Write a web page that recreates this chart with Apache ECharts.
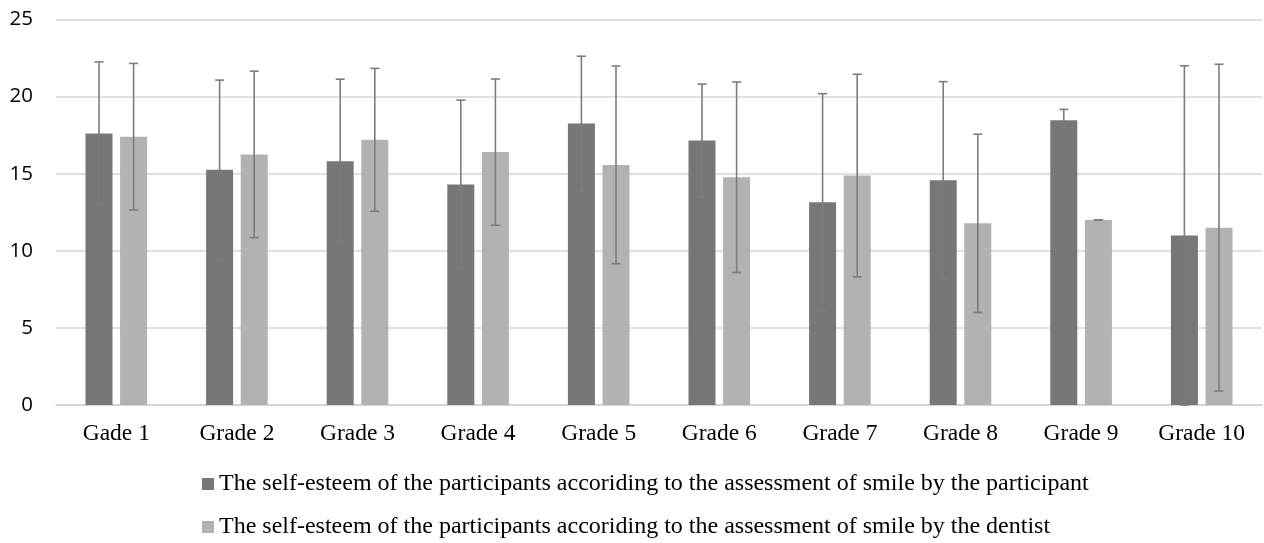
<!DOCTYPE html>
<html>
<head>
<meta charset="utf-8">
<script src="https://cdn.jsdelivr.net/npm/echarts@6/dist/echarts.min.js"></script>
<style>
html,body{margin:0;padding:0;background:#fff;}
#chart{width:1264px;height:543px;}
</style>
</head>
<body>
<div id="chart"></div>
<script>
const categories = ['Gade 1','Grade 2','Grade 3','Grade 4','Grade 5','Grade 6','Grade 7','Grade 8','Grade 9','Grade 10'];
const participantName = 'The self-esteem of the participants accoriding to the assessment of smile by the participant';
const dentistName = 'The self-esteem of the participants accoriding to the assessment of smile by the dentist';
const participantMeans = [17.6, 15.25, 15.8, 14.3, 18.25, 17.15, 13.15, 14.57, 18.47, 11.0];
const participantSD    = [4.65, 5.82, 5.33, 5.47, 4.37, 3.66, 7.04, 6.4, 0.7, 11.0];
const dentistMeans     = [17.4, 16.25, 17.2, 16.4, 15.57, 14.77, 14.88, 11.78, 12.0, 11.5];
const dentistSD        = [4.75, 5.4, 4.63, 4.74, 6.41, 6.18, 6.57, 5.78, 0.0, 10.6];
const yMin = 0, yMax = 25, yStep = 5;

const BAR_W = 27, BAR_GAP_PX = 7.6;
const DARK = '#777777', LIGHT = '#b1b2b4', ERR = '#7c7c7c';

function errData(means, sds){
  return means.map((m,i)=>[i, m, sds[i]]);
}
function errRender(side){
  return function(params, api){
    const idx = api.value(0), m = api.value(1), sd = api.value(2);
    const hi = api.coord([idx, m + sd]);
    const lo = api.coord([idx, Math.max(yMin, m - sd)]);
    const off = side * (BAR_W + BAR_GAP_PX) / 2;
    const x = hi[0] + off;
    const cap = 4.5;
    const style = {stroke: ERR, lineWidth: 1.6};
    return {type:'group', children:[
      {type:'line', shape:{x1:x, y1:hi[1], x2:x, y2:lo[1]}, style},
      {type:'line', shape:{x1:x-cap, y1:hi[1], x2:x+cap, y2:hi[1]}, style},
      {type:'line', shape:{x1:x-cap, y1:lo[1], x2:x+cap, y2:lo[1]}, style}
    ]};
  };
}

const chart = echarts.init(document.getElementById('chart'), null, {renderer:'canvas'});
chart.setOption({
  animation:false,
  backgroundColor:'#ffffff',
  grid:{left:56, right:2, top:19.5, bottom:138, containLabel:false},
  xAxis:{
    type:'category', data:categories,
    axisLine:{show:true, lineStyle:{color:'#d0d0d0', width:1.5}},
    axisTick:{show:false},
    axisLabel:{color:'#000', fontFamily:'"Liberation Serif","Times New Roman",serif', fontSize:23.5, margin:17}
  },
  yAxis:{
    type:'value', min:yMin, max:yMax, interval:yStep,
    axisLine:{show:false}, axisTick:{show:false},
    splitLine:{lineStyle:{color:'#d6d6d6', width:1.5}},
    axisLabel:{color:'#000', fontFamily:'"Open Sans",sans-serif', fontSize:20.5, margin:23}
  },
  legend:{
    orient:'vertical', left:197, top:467, height:90, width:1000,
    itemWidth:12, itemHeight:12, itemGap:19,
    icon:'rect',
    textStyle:{color:'#000', fontFamily:'"Liberation Serif","Times New Roman",serif', fontSize:24},
    data:[participantName, dentistName]
  },
  series:[
    {name:participantName, type:'bar', data:participantMeans, barWidth:BAR_W, barGap:(BAR_GAP_PX/BAR_W*100)+'%', itemStyle:{color:DARK}},
    {name:dentistName, type:'bar', data:dentistMeans, barWidth:BAR_W, itemStyle:{color:LIGHT}},
    {type:'custom', name:'err1', data:errData(participantMeans, participantSD), renderItem:errRender(-1), z:10, silent:true},
    {type:'custom', name:'err2', data:errData(dentistMeans, dentistSD), renderItem:errRender(1), z:10, silent:true}
  ]
});
</script>
</body>
</html>
